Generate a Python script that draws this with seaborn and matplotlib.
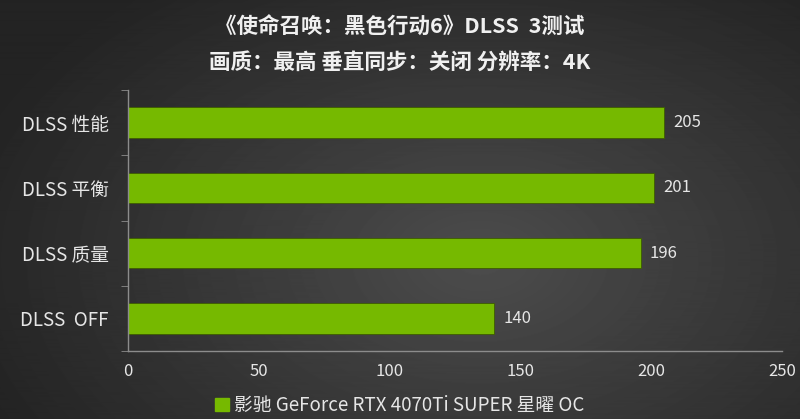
import numpy as np
import pandas as pd
import matplotlib
matplotlib.use("Agg")
import matplotlib.pyplot as plt
import matplotlib.patches as mpatches
import seaborn as sns

# data
categories = ["DLSS 性能", "DLSS 平衡", "DLSS 质量", "DLSS  OFF"]
fps = [205, 201, 196, 140]
series_name = "影驰 GeForce RTX 4070Ti SUPER 星曜 OC"
title1 = "《使命召唤：黑色行动6》DLSS  3测试"
title2 = "画质：最高 垂直同步：关闭 分辨率：4K"
x_ticks = [0, 50, 100, 150, 200, 250]

sns.set_style("dark")
plt.rcParams["font.family"] = ["Noto Sans CJK SC", "DejaVu Sans"]

green = "#76b900"
text_col = "#e6e6e6"
axis_col = "#8c8c8c"

fig = plt.figure(figsize=(8, 4.19), dpi=100)

# radial gradient background
bg = fig.add_axes([0, 0, 1, 1], zorder=-10)
yy, xx = np.mgrid[0:419, 0:800]
r = np.sqrt(((xx - 480) / 500.0) ** 2 + ((yy - 260) / 320.0) ** 2)
shade = np.clip(0.30 - 0.15 * r, 0.14, 0.30)
bg.imshow(shade, cmap="gray", vmin=0, vmax=1, aspect="auto",
          extent=[0, 1, 0, 1])
bg.set_axis_off()

ax = fig.add_axes([0.16, 0.1623, 0.8175, 0.6227])
ax.set_facecolor("none")

df = pd.DataFrame({"label": categories, "fps": fps})
sns.barplot(data=df, x="fps", y="label", orient="h", color=green,
            saturation=1, width=0.47, ax=ax, edgecolor="#3d5c00",
            linewidth=0.6)

for i, v in enumerate(fps):
    ax.text(v + 3.5, i, str(v), va="center", ha="left", fontsize=12,
            color=text_col)

ax.set_xlim(0, 250)
ax.set_ylim(3.5, -0.5)
ax.set_xticks(x_ticks)
ax.set_xticklabels([str(t) for t in x_ticks], fontsize=12, color=text_col)
ax.tick_params(axis="x", direction="in", length=5, color=axis_col, pad=9)
ax.set_yticks(range(len(categories)))
ax.set_yticklabels(categories, fontsize=13.5, color=text_col)
ax.set_yticks([-0.5, 0.5, 1.5, 2.5, 3.5], minor=True)
ax.tick_params(axis="y", which="major", length=0, pad=14)
ax.tick_params(axis="y", which="minor", length=5, color=axis_col,
               direction="out", left=True)
ax.set_xlabel("")
ax.set_ylabel("")
ax.grid(False)
for s in ["top", "right"]:
    ax.spines[s].set_visible(False)
for s in ["left", "bottom"]:
    ax.spines[s].set_visible(True)
    ax.spines[s].set_color(axis_col)
    ax.spines[s].set_linewidth(1)

fig.text(0.5, 0.935, title1, ha="center", va="center", fontsize=15.5,
         fontweight="bold", color="#f0f0f0")
fig.text(0.5, 0.852, title2, ha="center", va="center", fontsize=15.5,
         fontweight="bold", color="#f0f0f0")

handle = mpatches.Patch(color=green, label=series_name)
leg = fig.legend(handles=[handle], loc="center", bbox_to_anchor=(0.5, 0.033),
                 frameon=False, fontsize=13.5, handlelength=0.7,
                 handleheight=0.7, handletextpad=0.3)
for t in leg.get_texts():
    t.set_color(text_col)

fig.savefig("out.png", dpi=100)
